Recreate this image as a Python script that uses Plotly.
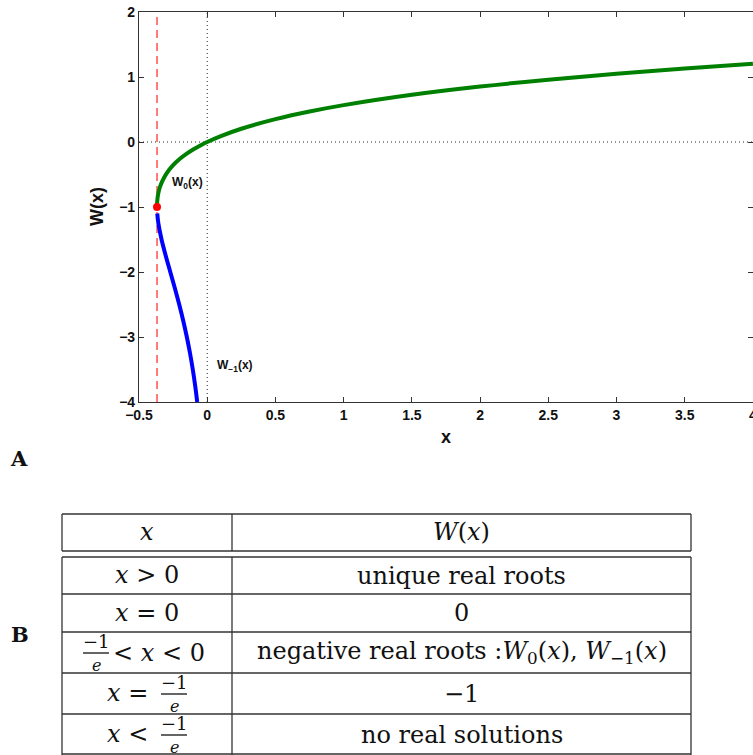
import plotly.graph_objects as go

# ---------------- data ----------------
w0_x = [-0.3679, -0.367, -0.365, -0.36, -0.35, -0.33, -0.30, -0.25, -0.20, -0.15, -0.10, -0.05,
        0.0, 0.1, 0.25, 0.5, 0.75, 1.0, 1.5, 2.0, 2.5, 3.0, 3.5, 4.0]
w0_y = [-1.0, -0.93, -0.88, -0.806, -0.716, -0.605, -0.489, -0.357, -0.259, -0.180, -0.112, -0.053,
        0.0, 0.091, 0.204, 0.352, 0.469, 0.567, 0.726, 0.853, 0.959, 1.050, 1.130, 1.202]

wm1_x = [-0.3662, -0.3581, -0.3347, -0.3041, -0.2707, -0.2371, -0.2052, -0.1758, -0.1494,
         -0.1260, -0.1057, -0.0882, -0.0733]
wm1_y = [-1.1, -1.25, -1.5, -1.75, -2.0, -2.25, -2.5, -2.75, -3.0, -3.25, -3.5, -3.75, -4.0]

branch_x = [-0.3679, -0.3679]   # x = -1/e
branch_y = [-4, 2]
branch_pt_x = [-0.3679]
branch_pt_y = [-1]
zero_vx = [0, 0]
zero_vy = [-4, 2]
zero_hx = [-0.5, 4]
zero_hy = [0, 0]

x_ticks = [-0.5, 0, 0.5, 1, 1.5, 2, 2.5, 3, 3.5, 4]
y_ticks = [-4, -3, -2, -1, 0, 1, 2]

table_header = ["<i>x</i>", "<i>W</i>(<i>x</i>)"]
table_right = ["unique real roots", "0",
               "negative real roots :<i>W</i><sub>0</sub>(<i>x</i>), <i>W</i><sub>−1</sub>(<i>x</i>)",
               "−1", "no real solutions"]

# ---------------- figure ----------------
W, H = 753, 755
def px(x):
    return x / W
def py(y):
    return 1 - y / H

fig = go.Figure()

fig.add_trace(go.Scatter(x=zero_vx, y=zero_vy, mode="lines",
                         line=dict(color="#222", width=1, dash="1px,3px"), hoverinfo="skip"))
fig.add_trace(go.Scatter(x=zero_hx, y=zero_hy, mode="lines",
                         line=dict(color="#222", width=1, dash="1px,3px"), hoverinfo="skip"))
fig.add_trace(go.Scatter(x=branch_x, y=branch_y, mode="lines",
                         line=dict(color="#ff5050", width=1.5, dash="8px,5px"), hoverinfo="skip"))
fig.add_trace(go.Scatter(x=w0_x, y=w0_y, mode="lines", line=dict(color="#008000", width=4, shape="spline")))
fig.add_trace(go.Scatter(x=wm1_x, y=wm1_y, mode="lines", line=dict(color="#0000ff", width=4, shape="spline")))
fig.add_trace(go.Scatter(x=branch_pt_x, y=branch_pt_y, mode="markers",
                         marker=dict(color="#ff0000", size=8)))

def fmt(v):
    s = "%g" % abs(v)
    return "<b>%s%s</b>" % ("−" if v < 0 else "", s)

axis_font = dict(family="Liberation Sans, Arial, sans-serif", size=14, color="#111")
fig.update_xaxes(range=[-0.5, 4.0005], domain=[px(139), 1], tickvals=x_ticks,
                 ticktext=[fmt(v) for v in x_ticks],
                 ticks="inside", ticklen=5, tickcolor="#333", showline=True, linecolor="#333",
                 linewidth=1.2, mirror="ticks", showgrid=False, zeroline=False, tickfont=axis_font,
                 anchor="y", automargin=False, ticklabeloverflow="allow")
fig.update_yaxes(range=[-4, 2], domain=[py(402), py(12)], tickvals=y_ticks,
                 ticktext=[fmt(v) for v in y_ticks],
                 ticks="inside", ticklen=5, tickcolor="#333", showline=True, linecolor="#333",
                 linewidth=1.2, mirror="ticks", showgrid=False, zeroline=False, tickfont=axis_font,
                 anchor="x", automargin=False, ticklabeloverflow="allow")

ann = []
def A(x, y, text, font, xanchor="center", yanchor="middle", **kw):
    ann.append(dict(x=x, y=y, xref="paper", yref="paper", text=text, showarrow=False, font=font,
                    xanchor=xanchor, yanchor=yanchor, **kw))

sans = "Liberation Sans, Arial, sans-serif"
# axis titles
A(px(446), py(437), "<b>x</b>", dict(family=sans, size=18, color="#111"))
A(px(97), py(207), "<b>W(x)</b>", dict(family=sans, size=18, color="#111"), textangle=-90)
# curve labels
ann.append(dict(x=-0.273, y=-0.63, xref="x", yref="y", xanchor="left", yanchor="middle",
                text="<b>W<sub>0</sub>(x)</b>", showarrow=False, font=dict(family=sans, size=12, color="#111")))
ann.append(dict(x=0.056, y=-3.44, xref="x", yref="y", xanchor="left", yanchor="middle",
                text="<b>W<sub>−1</sub>(x)</b>", showarrow=False, font=dict(family=sans, size=12, color="#111")))
# panel letters
serif = "DejaVu Serif, serif"
A(px(19), py(459), "<b>A</b>", dict(family=serif, size=21, color="#111"))
A(px(20), py(634), "<b>B</b>", dict(family=serif, size=21, color="#111"))

tfont = dict(family=serif, size=24, color="#111")
ffont = dict(family=serif, size=18, color="#111")
colL, colM, colR = 62, 232, 691
cL = (colL + colM) / 2
cR = (colM + colR) / 2

# header
A(px(cL), py(532), table_header[0], tfont)
A(px(cR), py(532), table_header[1], tfont)

rows = [557, 594, 632, 673, 714, 756]
for i, t in enumerate(table_right):
    yc = (rows[i] + rows[i + 1]) / 2
    A(px(cR), py(yc), t, tfont)

# left column
A(px(cL), py(575), "<i>x</i> > 0", tfont)
A(px(cL), py(613), "<i>x</i> = 0", tfont)

shapes = []
def frac(xc, ytop, ybar, ybot):
    A(px(xc), py(ytop), "−1", ffont)
    A(px(xc), py(ybot), "<i>e</i>", dict(family=serif, size=16, color="#111"))
    shapes.append(dict(type="line", xref="paper", yref="paper", x0=px(xc - 13), x1=px(xc + 13),
                       y0=py(ybar), y1=py(ybar), line=dict(color="#111", width=1.3)))

frac(96, 641, 653, 665)
A(px(111), py(653), "< <i>x</i> < 0", tfont, xanchor="left")

A(px(150), py(693), "<i>x</i> =", tfont, xanchor="right")
frac(174, 682, 694, 706)

A(px(150), py(734), "<i>x</i> <", tfont, xanchor="right")
frac(174, 723, 735, 747)

# table lines
lc = dict(color="#333", width=1.3)
def hline(y, x0=colL, x1=colR):
    shapes.append(dict(type="line", xref="paper", yref="paper", x0=px(x0), x1=px(x1), y0=py(y), y1=py(y), line=lc))
def vline(x, y0, y1):
    shapes.append(dict(type="line", xref="paper", yref="paper", x0=px(x), x1=px(x), y0=py(y0), y1=py(y1), line=lc))

hline(514); hline(551)
vline(colL, 514, 551); vline(colM, 514, 551); vline(colR, 514, 551)
for y in [557, 594, 632, 673, 714, 754]:
    hline(y)
vline(colL, 557, 755); vline(colM, 557, 755); vline(colR, 557, 755)

fig.update_layout(width=W, height=H, margin=dict(l=0, r=0, t=0, b=0), showlegend=False,
                  plot_bgcolor="white", paper_bgcolor="white", annotations=ann, shapes=shapes)

fig.write_html("out.html")
